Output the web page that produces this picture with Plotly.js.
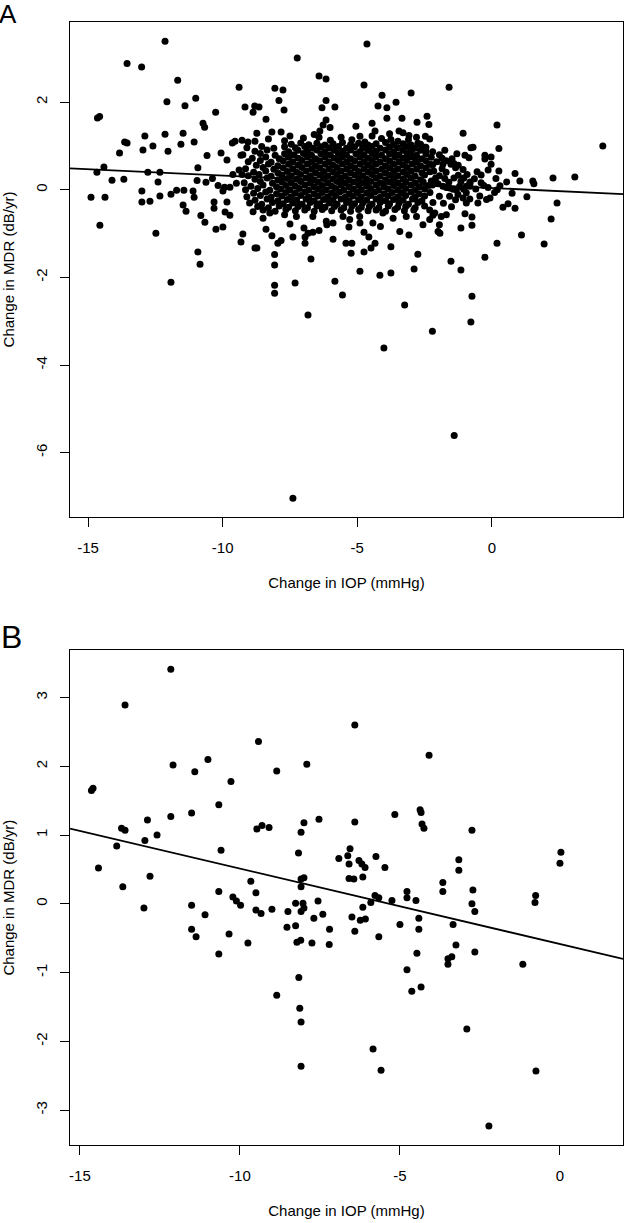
<!DOCTYPE html>
<html><head><meta charset="utf-8">
<script src="https://cdn.plot.ly/plotly-3.0.1.min.js"></script>
<style>html,body{margin:0;padding:0;background:#fff}</style>
</head><body><div id="chart" style="width:624px;height:1223px"></div>
<script>
// Panel A: scattered points read individually (Change in IOP, Change in MDR)
const outerA = [
[-12.14,3.39],[-13.55,2.88],[-13.01,2.80],[-11.67,2.50],[-9.39,2.34],[-12.07,2.01],[-11.40,1.92],[-11.00,2.09],[-9.17,1.89],[-8.87,1.77],[-8.81,1.91],[-10.26,1.77],[-14.65,1.64],[-14.57,1.67],[-10.73,1.52],[-10.67,1.43],[-12.89,1.23],[-12.14,1.27],[-11.47,1.29],[-13.64,1.09],[-13.55,1.07],[-12.59,1.00],[-11.55,1.04],[-11.06,1.09],[-13.83,0.84],[-12.96,0.91],[-12.03,0.88],[-10.58,0.78],[-10.06,0.84],[-9.84,0.68],[-9.64,1.07],[-9.54,1.11],[-9.28,1.13],[-9.06,1.09],[-8.80,1.11],[-8.73,1.29],[-9.32,0.79],[-9.39,0.45],[-10.92,0.50],[-14.41,0.52],[-14.67,0.40],[-14.11,0.22],[-13.67,0.24],[-12.78,0.40],[-12.33,0.40],[-12.40,0.18],[-13.00,-0.03],[-11.71,-0.01],[-11.44,-0.01],[-11.10,-0.03],[-10.95,0.21],[-10.62,0.17],[-10.38,0.26],[-10.17,0.10],[-9.93,0.06],[-9.73,0.06],[-9.62,0.35],[-9.28,0.35],
[-14.89,-0.17],[-14.37,-0.17],[-14.56,-0.81],[-13.00,-0.28],[-12.70,-0.26],[-12.33,-0.14],[-12.48,-0.99],[-11.92,-0.10],[-11.06,-0.17],[-11.47,-0.35],[-11.36,-0.49],[-10.81,-0.59],[-10.66,-0.74],[-10.92,-1.42],[-10.84,-1.70],[-11.92,-2.11],[-10.32,-0.28],[-10.32,-0.42],[-9.84,-0.28],[-9.91,-0.51],[-9.73,-0.58],[-10.25,-0.90],[-9.99,-0.85],[-9.25,-1.01],[-9.32,-1.19],[-8.80,-1.33],[-9.99,-0.03],[-9.49,0.15],
[-4.64,3.33],[-7.23,3.01],[-6.42,2.60],[-6.16,2.53],[-4.75,2.39],[-8.06,2.32],[-7.76,2.28],[-7.91,2.04],[-6.16,2.04],[-6.31,1.87],[-5.83,1.89],[-7.72,1.82],[-4.08,2.16],[-4.23,1.91],[-3.90,1.87],[-3.56,2.00],[-3.00,2.21],[-8.65,1.89],[-8.39,1.61],[-6.16,1.59],[-6.27,1.48],[-6.01,1.42],[-3.90,1.63],[-3.34,1.63],[-2.41,1.68],[-2.78,1.54],[-2.34,1.49],[-4.45,1.52],[-5.05,1.45],[-8.17,1.32],[-7.83,1.32],[-7.50,1.23],[-6.42,1.20],[-6.39,1.34],[-3.08,1.24],[-3.75,1.15],[-3.45,1.34],[-3.30,1.30],[-3.49,1.11],[-2.47,1.22],[-2.31,1.16],[-2.75,1.06],[-4.72,1.09],[-4.45,1.23],[-4.34,1.34],[-2.45,0.88],[-2.45,0.97],[-2.82,0.66],[-3.15,0.73],
[-1.59,2.34],[0.19,1.48],[-1.07,1.29],[4.12,1.00],[-0.78,0.96],[-0.70,0.97],[-1.00,0.79],[-0.85,0.73],[-0.26,0.79],[-0.03,0.75],[-0.26,0.70],[0.26,0.94],[-0.03,0.58],[-0.14,0.45],[0.26,0.43],[0.86,0.37],[1.04,0.20],[1.52,0.20],[1.56,0.14],[2.27,0.27],[3.08,0.29],[-1.82,0.58],[-1.48,0.71],[-1.41,0.60],[-1.52,0.58],[-1.07,0.46],[-0.92,0.35],[-1.04,0.27],[-0.81,0.18],[-1.41,0.27],[-2.16,0.43],[-2.09,0.27],[-2.25,0.20],[-2.00,0.14],[-2.31,0.58],[-0.14,0.05],[-0.81,0.08],[-1.69,0.05],[-1.44,0.01],
[-0.07,-0.19],[-0.52,-0.30],[0.41,-0.40],[0.86,-0.42],[2.42,-0.30],[2.20,-0.67],[1.10,-1.03],[1.94,-1.24],[0.19,-1.22],[-0.26,-1.54],[-0.74,-0.62],[-0.74,-0.81],[-1.00,-0.55],[-1.15,-0.87],[-1.52,-1.63],[-1.15,-1.83],[-0.74,-2.43],[-0.78,-3.02],[-2.21,-3.23],[-1.95,-0.80],[-1.93,-0.99],[-1.88,-0.61],[-1.69,-0.57],[-2.19,-0.58],[-2.19,-0.29],[-2.31,-0.46],[-1.57,-0.15],[-1.26,-0.11],[-1.07,-0.19],[-0.82,-0.21],[-1.57,0.04],[-1.32,0.00],[-0.95,0.08],[-0.82,0.15],[-1.82,0.08],[-2.06,0.15],[-2.21,0.11],
[-8.73,-1.33],[-8.07,-1.48],[-8.07,-1.72],[-8.07,-2.18],[-8.07,-2.36],[-7.31,-2.13],[-6.72,-1.58],[-6.83,-2.86],[-5.83,-2.09],[-5.55,-2.40],[-4.90,-1.86],[-4.16,-1.95],[-3.75,-1.90],[-3.75,-1.30],[-2.89,-1.81],[-2.75,-1.47],[-3.24,-2.63],[-4.01,-3.61],[-7.39,-1.08],[-6.94,-1.08],[-6.94,-1.22],[-5.90,-1.13],[-5.42,-1.22],[-5.20,-1.22],[-5.23,-1.45],[-4.75,-1.42],[-4.75,-0.97],[-4.57,-1.08],[-4.34,-1.22],[-4.49,-1.33],[-3.08,-1.03],[-8.39,-0.90],[-8.17,-1.05],[-7.83,-1.16],[-7.95,-1.22],[-6.98,-0.87],[-6.83,-0.99],[-6.65,-0.97],[-6.42,-0.93],[-7.50,-0.78],[-5.31,-0.85],[-5.90,-0.76],[-6.13,-0.80],[-4.90,-0.76],[-4.42,-0.76],[-4.14,-0.84],[-3.42,-0.95],[-2.56,-0.80],[-2.31,-0.68],[-2.12,-0.53],[-2.00,-0.95],[-8.87,-0.50],[-8.50,-0.65],[-8.25,-0.53],[-7.70,-0.57],[-7.26,-0.61],[-6.65,-0.61],[-6.15,-0.72],[-5.53,-0.61],[-5.28,-0.68],[-4.91,-0.61],[-4.05,-0.53],[-3.67,-0.65],[-3.18,-0.61],[-2.80,-0.61],
[-7.39,-7.04],[-1.40,-5.61],
[-7.00,1.18],[-6.60,1.26],[-5.60,1.20],[-5.20,1.14],[-4.90,1.22],[-4.10,1.17],[-3.80,1.28],[-3.10,1.14],[-2.80,1.20],[-8.30,1.16],[-7.70,1.12],[-6.00,1.13]
];
// Panel A: dense core, estimated point by point from the black mass
const coreA = [
[-7.45,1.04],[-7.10,1.07],[-6.80,1.03],[-6.50,1.06],[-6.20,1.02],[-5.90,1.05],[-5.55,1.08],[-5.25,1.03],[-4.95,1.06],[-4.60,1.02],[-4.30,1.05],[-3.95,1.08],[-3.65,1.03],[-3.30,1.05],[-3.00,1.02],[-2.65,1.04],
[-9.10,0.96],[-8.55,0.99],[-8.10,0.95],[-7.70,0.98],[-7.30,0.96],[-6.95,0.99],[-6.65,0.95],[-6.35,0.98],[-6.05,0.96],[-5.70,0.99],[-5.40,0.95],[-5.10,0.98],[-4.80,0.96],[-4.45,0.99],[-4.15,0.95],[-3.80,0.98],[-3.50,0.96],[-3.15,0.99],[-2.85,0.95],[-2.50,0.97],
[-8.80,0.88],[-8.35,0.91],[-7.55,0.87],[-7.20,0.90],[-6.85,0.88],[-6.50,0.91],[-6.20,0.87],[-5.85,0.90],[-5.55,0.88],[-5.25,0.91],[-4.90,0.87],[-4.60,0.90],[-4.30,0.88],[-3.95,0.91],[-3.65,0.87],[-3.30,0.90],[-3.00,0.88],[-2.65,0.90],[-2.20,0.87],[-1.75,0.90],
[-9.25,0.80],[-8.60,0.83],[-8.05,0.79],[-7.70,0.82],[-7.35,0.80],[-7.00,0.83],[-6.70,0.79],[-6.35,0.82],[-6.00,0.80],[-5.70,0.83],[-5.40,0.79],[-5.05,0.82],[-4.75,0.80],[-4.45,0.83],[-4.10,0.79],[-3.80,0.82],[-3.45,0.80],[-3.15,0.83],[-2.80,0.79],[-2.45,0.82],[-1.95,0.80],[-1.30,0.82],
[-8.90,0.72],[-8.40,0.75],[-7.90,0.71],[-7.55,0.74],[-7.20,0.72],[-6.85,0.75],[-6.55,0.71],[-6.20,0.74],[-5.85,0.72],[-5.55,0.75],[-5.25,0.71],[-4.90,0.74],[-4.60,0.72],[-4.30,0.75],[-3.95,0.71],[-3.60,0.74],[-3.30,0.72],[-2.95,0.75],[-2.60,0.71],[-2.25,0.74],[-1.85,0.72],
[-9.05,0.64],[-8.60,0.67],[-8.20,0.63],[-7.75,0.66],[-7.40,0.64],[-7.05,0.67],[-6.70,0.63],[-6.40,0.66],[-6.05,0.64],[-5.70,0.67],[-5.40,0.63],[-5.10,0.66],[-4.75,0.64],[-4.45,0.67],[-4.15,0.63],[-3.80,0.66],[-3.45,0.64],[-3.15,0.67],[-2.80,0.63],[-2.45,0.66],[-2.05,0.64],[-1.70,0.66],
[-8.75,0.56],[-8.30,0.59],[-7.95,0.55],[-7.55,0.58],[-7.20,0.56],[-6.85,0.59],[-6.55,0.55],[-6.20,0.58],[-5.90,0.56],[-5.55,0.59],[-5.25,0.55],[-4.90,0.58],[-4.60,0.56],[-4.30,0.59],[-3.95,0.55],[-3.65,0.58],[-3.30,0.56],[-2.95,0.59],[-2.65,0.55],[-2.20,0.57],[-1.25,0.56],
[-9.15,0.48],[-8.50,0.51],[-8.10,0.47],[-7.75,0.50],[-7.40,0.48],[-7.05,0.51],[-6.70,0.47],[-6.40,0.50],[-6.05,0.48],[-5.75,0.51],[-5.40,0.47],[-5.10,0.50],[-4.75,0.48],[-4.45,0.51],[-4.10,0.47],[-3.80,0.50],[-3.50,0.48],[-3.15,0.51],[-2.80,0.47],[-2.45,0.50],[-1.85,0.48],[-1.35,0.50],
[-8.85,0.40],[-8.40,0.43],[-7.95,0.39],[-7.60,0.42],[-7.25,0.40],[-6.90,0.43],[-6.55,0.39],[-6.25,0.42],[-5.90,0.40],[-5.60,0.43],[-5.25,0.39],[-4.95,0.42],[-4.60,0.40],[-4.30,0.43],[-3.95,0.39],[-3.65,0.42],[-3.30,0.40],[-3.00,0.43],[-2.60,0.39],[-2.30,0.41],[-1.70,0.40],[-0.55,0.41],
[-9.05,0.32],[-8.65,0.35],[-8.20,0.31],[-7.80,0.34],[-7.45,0.32],[-7.10,0.35],[-6.75,0.31],[-6.40,0.34],[-6.10,0.32],[-5.75,0.35],[-5.45,0.31],[-5.10,0.34],[-4.80,0.32],[-4.45,0.35],[-4.15,0.31],[-3.80,0.34],[-3.50,0.32],[-3.15,0.35],[-2.85,0.31],[-2.50,0.34],[-1.95,0.32],[-1.25,0.33],[-0.40,0.34],
[-8.80,0.24],[-8.35,0.27],[-7.95,0.23],[-7.60,0.26],[-7.25,0.24],[-6.90,0.27],[-6.60,0.23],[-6.25,0.26],[-5.90,0.24],[-5.60,0.27],[-5.30,0.23],[-4.95,0.26],[-4.65,0.24],[-4.30,0.27],[-3.95,0.23],[-3.65,0.26],[-3.30,0.24],[-3.00,0.27],[-2.65,0.23],[-1.75,0.26],[-0.65,0.25],[0.15,0.26],
[-9.20,0.16],[-8.60,0.19],[-8.15,0.15],[-7.80,0.18],[-7.45,0.16],[-7.10,0.19],[-6.75,0.15],[-6.45,0.18],[-6.10,0.16],[-5.75,0.19],[-5.45,0.15],[-5.15,0.18],[-4.80,0.16],[-4.50,0.19],[-4.15,0.15],[-3.80,0.18],[-3.50,0.16],[-3.20,0.19],[-2.85,0.15],[-2.55,0.18],[-1.60,0.17],[-1.15,0.19],[-0.40,0.16],[0.55,0.18],
[-8.95,0.08],[-8.50,0.11],[-8.00,0.07],[-7.65,0.10],[-7.30,0.08],[-6.95,0.11],[-6.60,0.07],[-6.30,0.10],[-5.95,0.08],[-5.60,0.11],[-5.30,0.07],[-4.95,0.10],[-4.65,0.08],[-4.30,0.11],[-4.00,0.07],[-3.65,0.10],[-3.35,0.08],[-3.00,0.11],[-2.70,0.07],[-2.35,0.10],[-1.20,0.08],[-0.30,0.10],[0.30,0.09],
[-9.15,0.00],[-8.70,0.03],[-8.25,-0.01],[-7.85,0.02],[-7.50,0.00],[-7.15,0.03],[-6.80,-0.01],[-6.45,0.02],[-6.15,0.00],[-5.80,0.03],[-5.50,-0.01],[-5.15,0.02],[-4.85,0.00],[-4.50,0.03],[-4.20,-0.01],[-3.85,0.02],[-3.50,0.00],[-3.20,0.03],[-2.85,-0.01],[-2.50,0.02],[-1.05,0.01],[-0.60,0.02],[0.20,0.00],
[-8.85,-0.08],[-8.40,-0.05],[-8.00,-0.09],[-7.65,-0.06],[-7.30,-0.08],[-6.95,-0.05],[-6.60,-0.09],[-6.30,-0.06],[-5.95,-0.08],[-5.65,-0.05],[-5.30,-0.09],[-5.00,-0.06],[-4.65,-0.08],[-4.35,-0.05],[-4.00,-0.09],[-3.70,-0.06],[-3.35,-0.08],[-3.00,-0.05],[-2.70,-0.09],[-2.30,-0.06],[-0.95,-0.07],[0.10,-0.06],[0.75,-0.08],
[-9.10,-0.16],[-8.60,-0.13],[-8.20,-0.17],[-7.80,-0.14],[-7.45,-0.16],[-7.10,-0.13],[-6.80,-0.17],[-6.45,-0.14],[-6.10,-0.16],[-5.80,-0.13],[-5.45,-0.17],[-5.15,-0.14],[-4.85,-0.16],[-4.50,-0.13],[-4.15,-0.17],[-3.85,-0.14],[-3.50,-0.16],[-3.20,-0.13],[-2.85,-0.17],[-2.50,-0.14],[-1.95,-0.15],[-0.45,-0.14],[1.30,-0.16],
[-8.80,-0.24],[-8.35,-0.21],[-7.95,-0.25],[-7.60,-0.22],[-7.25,-0.24],[-6.90,-0.21],[-6.60,-0.25],[-6.25,-0.22],[-5.90,-0.24],[-5.60,-0.21],[-5.30,-0.25],[-4.95,-0.22],[-4.65,-0.24],[-4.30,-0.21],[-3.95,-0.25],[-3.65,-0.22],[-3.30,-0.24],[-2.95,-0.21],[-2.60,-0.25],[-1.35,-0.23],[-0.20,-0.22],
[-9.00,-0.30],[-8.55,-0.33],[-8.15,-0.29],[-7.75,-0.32],[-7.40,-0.30],[-7.05,-0.33],[-6.75,-0.29],[-6.40,-0.32],[-6.05,-0.30],[-5.75,-0.33],[-5.40,-0.29],[-5.10,-0.32],[-4.80,-0.30],[-4.45,-0.33],[-4.15,-0.29],[-3.80,-0.32],[-3.45,-0.30],[-3.10,-0.33],[-2.75,-0.29],[-1.80,-0.31],[-0.95,-0.30],[0.60,-0.32],
[-8.70,-0.38],[-8.30,-0.41],[-7.90,-0.37],[-7.55,-0.40],[-7.20,-0.38],[-6.85,-0.41],[-6.50,-0.37],[-6.20,-0.40],[-5.85,-0.38],[-5.50,-0.41],[-5.20,-0.37],[-4.85,-0.40],[-4.55,-0.38],[-4.20,-0.41],[-3.85,-0.37],[-3.50,-0.40],[-3.20,-0.38],[-2.85,-0.41],[-2.50,-0.37],[-1.50,-0.39],
[-8.50,-0.46],[-8.05,-0.49],[-7.65,-0.45],[-7.30,-0.48],[-6.95,-0.46],[-6.60,-0.49],[-6.30,-0.45],[-5.95,-0.48],[-5.60,-0.46],[-5.25,-0.49],[-4.95,-0.45],[-4.60,-0.48],[-4.30,-0.46],[-3.95,-0.49],[-3.60,-0.45],[-3.25,-0.48],[-2.90,-0.46]
];
// Panel B points
const pointsB = [
[-12.16,3.41],[-13.59,2.89],[-14.64,1.65],[-14.59,1.68],[-12.09,2.02],[-11.41,1.92],[-11.00,2.10],[-10.28,1.78],[-9.42,2.36],[-8.85,1.93],[-7.91,2.03],[-10.66,1.44],[-11.51,1.32],[-12.16,1.27],[-12.89,1.22],[-13.70,1.10],[-13.59,1.07],[-12.59,1.00],[-12.97,0.92],[-13.85,0.84],[-10.59,0.78],[-9.47,1.09],[-9.31,1.14],[-9.09,1.11],[-8.09,1.04],[-8.00,1.18],[-7.53,1.23],[-8.17,0.74],[-14.42,0.52],[-12.81,0.40],[-13.66,0.25],[-9.66,0.33],[-10.66,0.18],[-9.50,0.16],[-8.09,0.36],[-8.00,0.38],[-8.09,0.25],[-10.22,0.10],[-10.11,0.04],[-9.98,-0.02],[-11.51,-0.02],[-13.00,-0.06],[-11.09,-0.16],[-9.50,-0.09],[-9.34,-0.14],[-9.00,-0.08],[-8.50,-0.11],[-8.26,0.01],[-8.03,0.01],[-8.09,-0.11],[-8.00,-0.06],[-7.56,0.04],[-7.41,-0.15],[-7.69,-0.21],
[-11.51,-0.37],[-11.37,-0.48],[-10.34,-0.44],[-9.75,-0.57],[-10.66,-0.73],[-8.53,-0.34],[-8.26,-0.32],[-8.22,-0.56],[-8.10,-0.53],[-7.75,-0.57],[-7.21,-0.59],[-7.20,-0.37],[-8.16,-1.07],[-8.85,-1.33],[-8.13,-1.52],[-8.09,-1.72],[-8.09,-2.36],
[-6.41,2.60],[-4.09,2.16],[-6.41,1.19],[-5.16,1.30],[-4.37,1.37],[-4.34,1.33],[-4.31,1.16],[-4.25,1.10],[-2.75,1.07],[-6.56,0.80],[-6.63,0.70],[-6.91,0.66],[-6.59,0.58],[-6.28,0.63],[-6.19,0.58],[-6.09,0.53],[-5.75,0.69],[-5.47,0.53],[-6.59,0.37],[-6.44,0.36],[-6.16,0.39],[-3.16,0.64],[-3.16,0.49],[-3.66,0.31],[-3.66,0.18],[-2.72,0.20],[0.03,0.75],[0.00,0.59],[-0.76,0.12],[-0.78,0.02],
[-5.78,0.12],[-5.66,0.09],[-5.91,0.02],[-6.16,-0.05],[-5.25,0.05],[-4.78,0.18],[-4.78,0.09],[-4.50,0.05],[-2.75,0.00],[-2.66,-0.11],[-6.50,-0.19],[-6.24,-0.24],[-6.08,-0.22],[-4.41,-0.21],[-6.41,-0.40],[-5.66,-0.48],[-5.00,-0.30],[-4.41,-0.37],[-4.47,-0.72],[-4.78,-0.96],[-4.63,-1.27],[-4.34,-1.21],[-3.34,-0.30],[-3.25,-0.60],[-3.50,-0.80],[-3.38,-0.77],[-3.50,-0.88],[-2.66,-0.70],[-2.91,-1.82],[-5.84,-2.11],[-5.59,-2.42],[-2.22,-3.23],[-1.16,-0.88],[-0.75,-2.43]
];
// Least-squares lines [intercept, slope]
const fitA = [0.04, -0.0285];
const fitB = [-0.584, -0.1096];
// Axis ranges and ticks
const xRangeA = [-15.67, 4.87], yRangeA = [-7.47, 3.83];
const xRangeB = [-15.31, 1.97], yRangeB = [-3.507, 3.687];
const xTicksA = [-15, -10, -5, 0], yTicksA = [-6, -4, -2, 0, 2];
const xTicksB = [-15, -10, -5, 0], yTicksB = [-3, -2, -1, 0, 1, 2, 3];
const xLabel = 'Change in IOP (mmHg)';
const yLabel = 'Change in MDR (dB/yr)';
const panelLabels = ['A', 'B'];

const allA = outerA.concat(coreA);
const FONT = 'Liberation Sans, Arial, sans-serif';
const W = 624, H = 1223, ml = 70, mr = 1, mt = 22, mb = 78;
const plotH = H - mt - mb, plotW = W - ml - mr;
const py = p => (H - mb - p) / plotH;  // pixel y -> paper
const px = p => (p - ml) / plotW;

const mk = {color: '#000', size: 7, line: {width: 0}};
const lineOf = (fit, r) => ({x: r, y: r.map(v => fit[0] + fit[1] * v)});
const lA = lineOf(fitA, xRangeA), lB = lineOf(fitB, xRangeB);

const traces = [
  {type: 'scatter', mode: 'markers', x: allA.map(p => p[0]), y: allA.map(p => p[1]), marker: mk, xaxis: 'x', yaxis: 'y', hoverinfo: 'x+y'},
  {type: 'scatter', mode: 'lines', x: lA.x, y: lA.y, line: {color: '#000', width: 1.8}, xaxis: 'x', yaxis: 'y'},
  {type: 'scatter', mode: 'markers', x: pointsB.map(p => p[0]), y: pointsB.map(p => p[1]), marker: mk, xaxis: 'x2', yaxis: 'y2', hoverinfo: 'x+y'},
  {type: 'scatter', mode: 'lines', x: lB.x, y: lB.y, line: {color: '#000', width: 1.8}, xaxis: 'x2', yaxis: 'y2'}
];

const axBase = {
  showgrid: false, zeroline: false, showline: true, mirror: true, linecolor: '#000', linewidth: 1,
  ticks: 'outside', ticklen: 9, tickwidth: 1, tickcolor: '#000',
  tickfont: {family: FONT, size: 15, color: '#000'}
};
const xAx = (range, ticks, anchor) => Object.assign({}, axBase, {
  range: range, tickvals: ticks, ticktext: ticks.map(String), anchor: anchor, domain: [0, 1],
  ticklabelstandoff: 8,
  title: {text: xLabel, font: {family: FONT, size: 15, color: '#000'}, standoff: 22}
});
const yAx = (range, ticks, anchor, dom) => Object.assign({}, axBase, {
  range: range, tickvals: ticks, ticktext: ticks.map(String), anchor: anchor, domain: dom,
  tickangle: -90, ticklabelstandoff: 7,
  title: {text: yLabel, font: {family: FONT, size: 15, color: '#000'}, standoff: 15}
});

const layout = {
  width: W, height: H, margin: {l: ml, r: mr, t: mt, b: mb, pad: 0, autoexpand: false},
  paper_bgcolor: '#fff', plot_bgcolor: '#fff', showlegend: false,
  font: {family: FONT, color: '#000'},
  xaxis: xAx(xRangeA, xTicksA, 'y'),
  yaxis: yAx(yRangeA, yTicksA, 'x', [py(517), 1]),
  xaxis2: xAx(xRangeB, xTicksB, 'y2'),
  yaxis2: yAx(yRangeB, yTicksB, 'x2', [0, py(650.3)]),
  annotations: [
    {text: panelLabels[0], xref: 'paper', yref: 'paper', x: px(-3), y: py(-3), xanchor: 'left', yanchor: 'top', showarrow: false, font: {family: FONT, size: 26, color: '#000'}},
    {text: panelLabels[1], xref: 'paper', yref: 'paper', x: px(-1), y: py(617), xanchor: 'left', yanchor: 'top', showarrow: false, font: {family: FONT, size: 32, color: '#000'}}
  ]
};
Plotly.newPlot('chart', traces, layout, {displayModeBar: false, staticPlot: true});
</script></body></html>
